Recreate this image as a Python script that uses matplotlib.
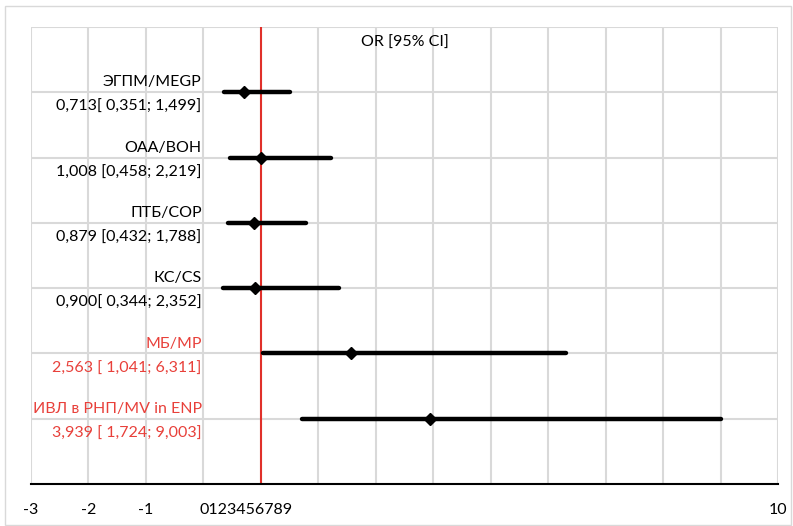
import matplotlib
matplotlib.use("Agg")
import matplotlib.pyplot as plt
from matplotlib.patches import Rectangle

# Данные
names = ["ЭГПМ/MEGP", "ОАА/BOH", "ПТБ/COP", "КС/CS", "МБ/MP", "ИВЛ в РНП/MV in ENP"]
values = ["0,713[ 0,351; 1,499]", "1,008 [0,458; 2,219]", "0,879 [0,432; 1,788]",
          "0,900[ 0,344; 2,352]", "2,563 [ 1,041; 6,311]", "3,939 [ 1,724; 9,003]"]
odds = [0.713, 1.008, 0.879, 0.900, 2.563, 3.939]
ci_low = [0.351, 0.458, 0.432, 0.344, 1.041, 1.724]
ci_high = [1.499, 2.219, 1.788, 2.352, 6.311, 9.003]
significant = [False, False, False, False, True, True]
y_pos = [6, 5, 4, 3, 2, 1]

plt.rcParams['font.family'] = ['Lato', 'DejaVu Sans']
red = '#E8403A'
grid_color = '#D9D9D9'

fig = plt.figure(figsize=(7.93, 5.26), dpi=100)
ax = fig.add_axes([31 / 793, 1 - 484 / 526, 747 / 793, 457 / 526])
ax.set_xlim(-3, 10)
ax.set_ylim(0, 7)

# Сетка
for x in range(-3, 11):
    ax.axvline(x, color=grid_color, lw=1.5, zorder=0)
for y in range(1, 8):
    ax.axhline(y, color=grid_color, lw=1.5, zorder=0)
ax.axvline(1, color='#E0302A', lw=1.5, zorder=1)

# Интервалы и точки
for i in range(len(odds)):
    ax.plot([ci_low[i], ci_high[i]], [y_pos[i], y_pos[i]], color='black', lw=3.2,
            solid_capstyle='round', zorder=3)
    ax.plot(odds[i], y_pos[i], marker='D', color='black', markersize=6.5, zorder=4)
    c = red if significant[i] else 'black'
    ax.text(-0.03, y_pos[i] + 0.15, names[i], ha='right', va='center', fontsize=11.5, color=c)
    ax.text(-0.03, y_pos[i] - 0.23, values[i], ha='right', va='center', fontsize=11.5, color=c)

ax.text(3.5, 6.76, "OR [95% CI]", ha='center', va='center', fontsize=11.5)

# Ось X
ax.set_xticks(range(-3, 11))
ax.set_xticklabels(["-3", "-2", "-1"] + [""] * 10 + ["10"], fontsize=11.5)
ax.tick_params(axis='x', length=0, pad=14)
ax.tick_params(axis='y', left=False, labelleft=False)
ax.text(0.75, -0.4, "0123456789", ha='center', va='center', fontsize=11.5)
for s in ['left', 'right', 'top']:
    ax.spines[s].set_visible(False)
ax.spines['bottom'].set_linewidth(1.5)
ax.spines['bottom'].set_zorder(5)

fig.patches.append(Rectangle((5 / 793, 0.002), 786 / 793, 1 - 6 / 526 - 0.002,
                             transform=fig.transFigure, fill=False,
                             edgecolor=grid_color, lw=1))

fig.savefig("out.png", dpi=100)
